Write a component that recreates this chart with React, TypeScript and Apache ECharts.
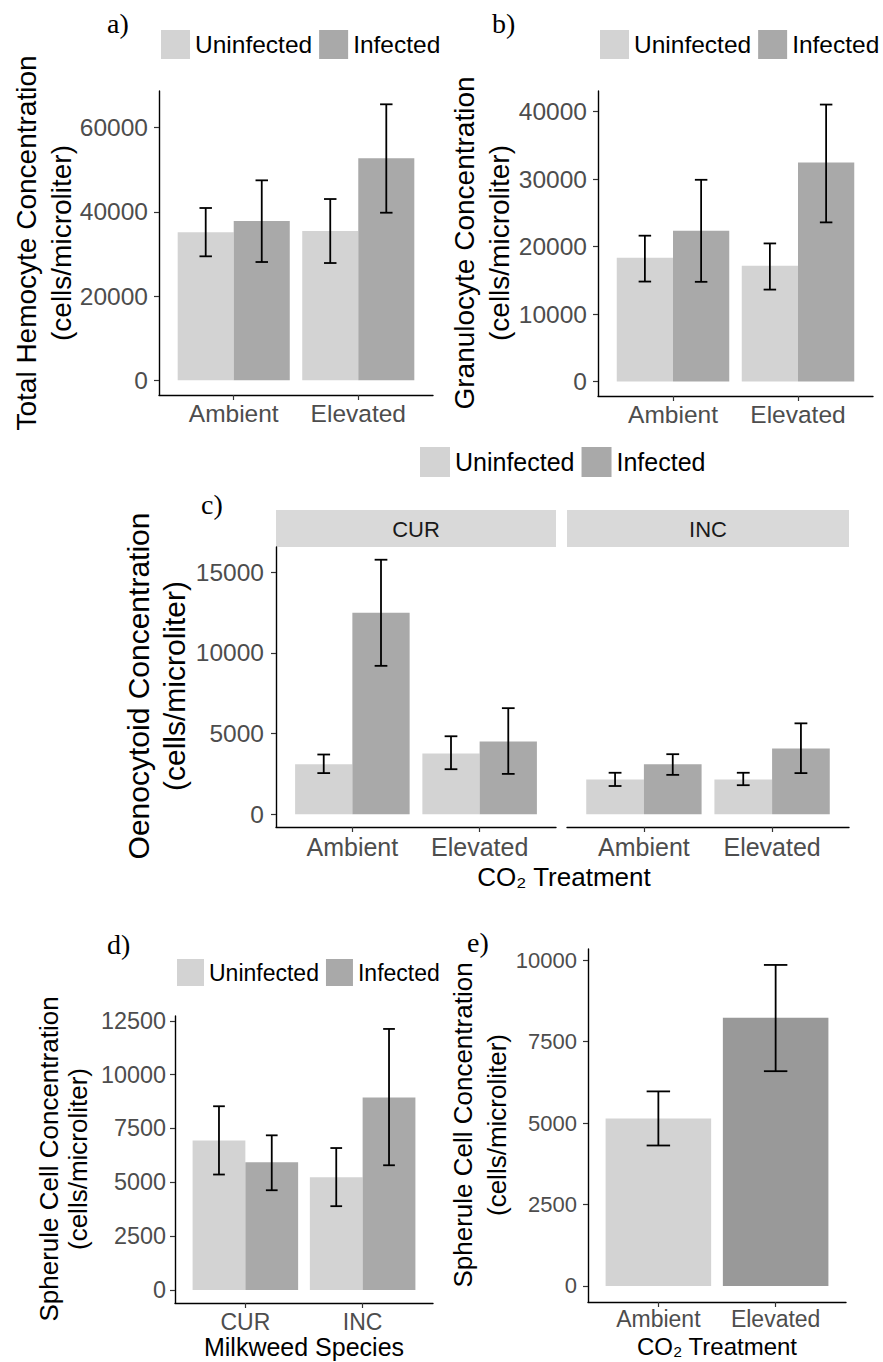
import React, { useEffect, useRef } from 'react';
import * as echarts from 'echarts';

// ---------- data ----------
const co2Levels = ['Ambient', 'Elevated'];
const species = ['CUR', 'INC'];
const infection = ['Uninfected', 'Infected'];

// a) Total hemocyte concentration
const thcUninfMean = [35150, 35460];
const thcUninfLow = [29450, 27860];
const thcUninfHigh = [40930, 43060];
const thcInfMean = [37840, 52730];
const thcInfLow = [28100, 39810];
const thcInfHigh = [47500, 65560];
const thcTicks = [0, 20000, 40000, 60000];

// b) Granulocyte concentration
const granUninfMean = [18340, 17150];
const granUninfLow = [14810, 13620];
const granUninfHigh = [21610, 20460];
const granInfMean = [22350, 32460];
const granInfLow = [14770, 23580];
const granInfHigh = [29890, 41040];
const granTicks = [0, 10000, 20000, 30000, 40000];

// c) Oenocytoid concentration, CUR facet
const oenoCurUninfMean = [3100, 3760];
const oenoCurUninfLow = [2550, 2790];
const oenoCurUninfHigh = [3700, 4830];
const oenoCurInfMean = [12470, 4500];
const oenoCurInfLow = [9190, 2500];
const oenoCurInfHigh = [15760, 6570];
// c) INC facet
const oenoIncUninfMean = [2160, 2160];
const oenoIncUninfLow = [1750, 1800];
const oenoIncUninfHigh = [2570, 2570];
const oenoIncInfMean = [3100, 4070];
const oenoIncInfLow = [2440, 2550];
const oenoIncInfHigh = [3720, 5630];
const oenoTicks = [0, 5000, 10000, 15000];

// d) Spherule concentration by milkweed species
const sphSpUninfMean = [6940, 5230];
const sphSpUninfLow = [5360, 3890];
const sphSpUninfHigh = [8530, 6590];
const sphSpInfMean = [5930, 8940];
const sphSpInfLow = [4630, 5790];
const sphSpInfHigh = [7180, 12120];
const sphSpTicks = [0, 2500, 5000, 7500, 10000, 12500];

// e) Spherule concentration by CO2 treatment
const sphCo2Mean = [5140, 8230];
const sphCo2Low = [4310, 6590];
const sphCo2High = [5970, 9850];
const sphCo2Ticks = [0, 2500, 5000, 7500, 10000];

// ---------- styles ----------
const SANS = '"Liberation Sans", Arial, Helvetica, sans-serif';
const SERIF = '"Liberation Serif", "Times New Roman", serif';
const LIGHT = '#d3d3d3';
const DARK = '#a9a9a9';
const DARKER = '#999999';
const TICK_GREY = '#4d4d4d';

const barData = (means: number[]) => means.map((v, i) => [i + 1, v]);
const errData = (lo: number[], hi: number[]) => lo.map((l, i) => [i + 1, l, hi[i]]);

function barSeries(name: string, axis: number, data: number[][], offset: number, halfW: number, colors: string[]) {
  return {
    type: 'custom',
    name,
    xAxisIndex: axis,
    yAxisIndex: axis,
    itemStyle: { color: colors[0] },
    encode: { x: 0, y: 1 },
    data,
    renderItem: (params: any, api: any) => {
      const c = api.value(0) + offset;
      const p0 = api.coord([c - halfW, 0]);
      const p1 = api.coord([c + halfW, api.value(1)]);
      return {
        type: 'rect',
        shape: { x: p0[0], y: p1[1], width: p1[0] - p0[0], height: p0[1] - p1[1] },
        style: { fill: colors[params.dataIndex % colors.length] },
      };
    },
    z: 2,
  };
}

function errSeries(name: string, axis: number, data: number[][], offset: number, capHalf: number) {
  const st = { stroke: '#000', lineWidth: 1.8 };
  return {
    type: 'custom',
    name,
    xAxisIndex: axis,
    yAxisIndex: axis,
    encode: { x: 0, y: [1, 2] },
    data,
    renderItem: (params: any, api: any) => {
      const c = api.value(0) + offset;
      const lo = api.coord([c, api.value(1)]);
      const hi = api.coord([c, api.value(2)]);
      const l = api.coord([c - capHalf, api.value(1)])[0];
      const r = api.coord([c + capHalf, api.value(1)])[0];
      return {
        type: 'group',
        children: [
          { type: 'line', shape: { x1: lo[0], y1: lo[1], x2: hi[0], y2: hi[1] }, style: st },
          { type: 'line', shape: { x1: l, y1: lo[1], x2: r, y2: lo[1] }, style: st },
          { type: 'line', shape: { x1: l, y1: hi[1], x2: r, y2: hi[1] }, style: st },
        ],
      };
    },
    z: 3,
  };
}

function xAxisFor(gridIndex: number, cats: string[], fontSize: number, margin: number, extra: any = {}) {
  return {
    type: 'value',
    gridIndex,
    min: 0.4,
    max: 2.6,
    splitLine: { show: false },
    axisLine: { show: true, onZero: false, lineStyle: { color: '#000', width: 1.4 } },
    axisTick: { show: true, customValues: [1, 2], length: 5, lineStyle: { color: '#333', width: 1.2 } },
    axisLabel: {
      customValues: [1, 2],
      formatter: (v: number) => cats[Math.round(v) - 1] ?? '',
      fontSize,
      color: TICK_GREY,
      margin,
      fontFamily: SANS,
    },
    ...extra,
  };
}

function yAxisFor(gridIndex: number, min: number, max: number, ticks: number[], fontSize: number, margin: number, show = true) {
  return {
    type: 'value',
    gridIndex,
    min,
    max,
    show,
    splitLine: { show: false },
    axisLine: { show: true, onZero: false, lineStyle: { color: '#000', width: 1.4 } },
    axisTick: { show: true, customValues: ticks, length: 5, lineStyle: { color: '#333', width: 1.2 } },
    axisLabel: {
      customValues: ticks,
      formatter: (v: number) => String(v),
      fontSize,
      color: TICK_GREY,
      margin,
      fontFamily: SANS,
    },
  };
}

const legendFor = (left: number, top: number, size: number, fontSize: number) => ({
  left,
  top,
  padding: 0,
  orient: 'horizontal',
  icon: 'rect',
  itemWidth: size,
  itemHeight: size,
  itemGap: 7,
  selectedMode: false,
  textStyle: { fontSize, color: '#000', fontFamily: SANS },
  data: [
    { name: infection[0], itemStyle: { color: LIGHT } },
    { name: infection[1], itemStyle: { color: DARK } },
  ],
});

const panelLabel = (x: number, y: number, text: string) => ({
  type: 'text',
  x,
  y,
  style: { text, fontSize: 28, fontFamily: SERIF, fill: '#000', align: 'left', verticalAlign: 'middle' },
});

const yTitle = (x: number, y: number, text: string, fontSize: number, lineHeight: number) => ({
  type: 'text',
  x,
  y,
  rotation: Math.PI / 2,
  style: { text, fontSize, lineHeight, fontFamily: SANS, fill: '#000', align: 'center', verticalAlign: 'middle' },
});

export default function App() {
  const ref = useRef<HTMLDivElement>(null);

  useEffect(() => {
    if (!ref.current) return;
    const chart = echarts.init(ref.current, undefined, { renderer: 'svg' });

    const grids = [
      { left: 159, top: 91, width: 274, height: 304 }, // a
      { left: 598, top: 91, width: 275, height: 305 }, // b
      { left: 276, top: 547, width: 280, height: 280 }, // c CUR
      { left: 567, top: 547, width: 282, height: 280 }, // c INC
      { left: 175, top: 1016, width: 258, height: 287 }, // d
      { left: 588, top: 949, width: 258, height: 353 }, // e
    ].map((g) => ({ ...g, outerBoundsMode: 'none', containLabel: false }));

    const option: any = {
      animation: false,
      backgroundColor: '#fff',
      grid: grids,
      legend: [
        legendFor(161, 30, 29, 24.5),
        legendFor(600, 30, 29, 24.5),
        legendFor(420, 447, 30, 25),
        legendFor(177, 959, 27, 23),
      ],
      xAxis: [
        xAxisFor(0, co2Levels, 24.5, 6),
        xAxisFor(1, co2Levels, 24.5, 6),
        xAxisFor(2, co2Levels, 25, 7),
        xAxisFor(3, co2Levels, 25, 7),
        xAxisFor(4, species, 23, 7, {
          name: 'Milkweed Species',
          nameLocation: 'middle',
          nameGap: 29,
          nameTextStyle: { fontSize: 25, color: '#000', fontFamily: SANS, lineHeight: 26 },
        }),
        xAxisFor(5, co2Levels, 23, 5, {
          name: 'CO₂ Treatment',
          nameLocation: 'middle',
          nameGap: 32,
          nameTextStyle: { fontSize: 24, color: '#000', fontFamily: SANS, lineHeight: 25 },
        }),
      ],
      yAxis: [
        yAxisFor(0, -3490, 68720, thcTicks, 24.5, 11),
        yAxisFor(1, -2150, 43050, granTicks, 24.5, 11),
        yAxisFor(2, -788, 16548, oenoTicks, 24.5, 12),
        yAxisFor(3, -788, 16548, oenoTicks, 24.5, 12, false),
        yAxisFor(4, -606, 12721, sphSpTicks, 23.4, 9),
        yAxisFor(5, -492, 10339, sphCo2Ticks, 22, 11),
      ],
      series: [
        // a
        barSeries(infection[0], 0, barData(thcUninfMean), -0.225, 0.225, [LIGHT]),
        barSeries(infection[1], 0, barData(thcInfMean), 0.225, 0.225, [DARK]),
        errSeries('a-err-u', 0, errData(thcUninfLow, thcUninfHigh), -0.225, 0.05),
        errSeries('a-err-i', 0, errData(thcInfLow, thcInfHigh), 0.225, 0.05),
        // b
        barSeries(infection[0], 1, barData(granUninfMean), -0.225, 0.225, [LIGHT]),
        barSeries(infection[1], 1, barData(granInfMean), 0.225, 0.225, [DARK]),
        errSeries('b-err-u', 1, errData(granUninfLow, granUninfHigh), -0.225, 0.05),
        errSeries('b-err-i', 1, errData(granInfLow, granInfHigh), 0.225, 0.05),
        // c CUR
        barSeries(infection[0], 2, barData(oenoCurUninfMean), -0.225, 0.225, [LIGHT]),
        barSeries(infection[1], 2, barData(oenoCurInfMean), 0.225, 0.225, [DARK]),
        errSeries('c1-err-u', 2, errData(oenoCurUninfLow, oenoCurUninfHigh), -0.225, 0.05),
        errSeries('c1-err-i', 2, errData(oenoCurInfLow, oenoCurInfHigh), 0.225, 0.05),
        // c INC
        barSeries(infection[0], 3, barData(oenoIncUninfMean), -0.225, 0.225, [LIGHT]),
        barSeries(infection[1], 3, barData(oenoIncInfMean), 0.225, 0.225, [DARK]),
        errSeries('c2-err-u', 3, errData(oenoIncUninfLow, oenoIncUninfHigh), -0.225, 0.05),
        errSeries('c2-err-i', 3, errData(oenoIncInfLow, oenoIncInfHigh), 0.225, 0.05),
        // d
        barSeries(infection[0], 4, barData(sphSpUninfMean), -0.225, 0.225, [LIGHT]),
        barSeries(infection[1], 4, barData(sphSpInfMean), 0.225, 0.225, [DARK]),
        errSeries('d-err-u', 4, errData(sphSpUninfLow, sphSpUninfHigh), -0.225, 0.05),
        errSeries('d-err-i', 4, errData(sphSpInfLow, sphSpInfHigh), 0.225, 0.05),
        // e
        barSeries('CO2 treatment', 5, barData(sphCo2Mean), 0, 0.45, [LIGHT, DARKER]),
        errSeries('e-err', 5, errData(sphCo2Low, sphCo2High), 0, 0.1),
      ],
      graphic: [
        panelLabel(107, 23, 'a)'),
        panelLabel(492, 23, 'b)'),
        panelLabel(201, 504, 'c)'),
        panelLabel(107, 944, 'd)'),
        panelLabel(467, 942, 'e)'),
        // facet strips
        { type: 'rect', shape: { x: 276, y: 510, width: 280, height: 37 }, style: { fill: '#d9d9d9' } },
        { type: 'rect', shape: { x: 567, y: 510, width: 282, height: 37 }, style: { fill: '#d9d9d9' } },
        {
          type: 'text', x: 416, y: 529,
          style: { text: species[0], fontSize: 22, fontFamily: SANS, fill: '#1a1a1a', align: 'center', verticalAlign: 'middle' },
        },
        {
          type: 'text', x: 708, y: 529,
          style: { text: species[1], fontSize: 22, fontFamily: SANS, fill: '#1a1a1a', align: 'center', verticalAlign: 'middle' },
        },
        // axis titles
        yTitle(43.5, 243, 'Total Hemocyte Concentration\n(cells/microliter)', 28, 35),
        yTitle(481.5, 243, 'Granulocyte Concentration\n(cells/microliter)', 28, 35),
        yTitle(156, 686, 'Oenocytoid Concentration\n(cells/microliter)', 30, 36),
        yTitle(63, 1159, 'Spherule Cell Concentration\n(cells/microliter)', 26, 29),
        yTitle(479.5, 1125, 'Spherule Cell Concentration\n(cells/microliter)', 26, 34),
        {
          type: 'text', x: 564, y: 877,
          style: { text: 'CO₂ Treatment', fontSize: 26, fontFamily: SANS, fill: '#000', align: 'center', verticalAlign: 'middle' },
        },
      ],
    };

    chart.setOption(option);
    return () => chart.dispose();
  }, []);

  return (
    <div
      ref={ref}
      style={{ position: 'absolute', left: 0, top: 0, width: 883, height: 1362, background: '#fff' }}
    />
  );
}
